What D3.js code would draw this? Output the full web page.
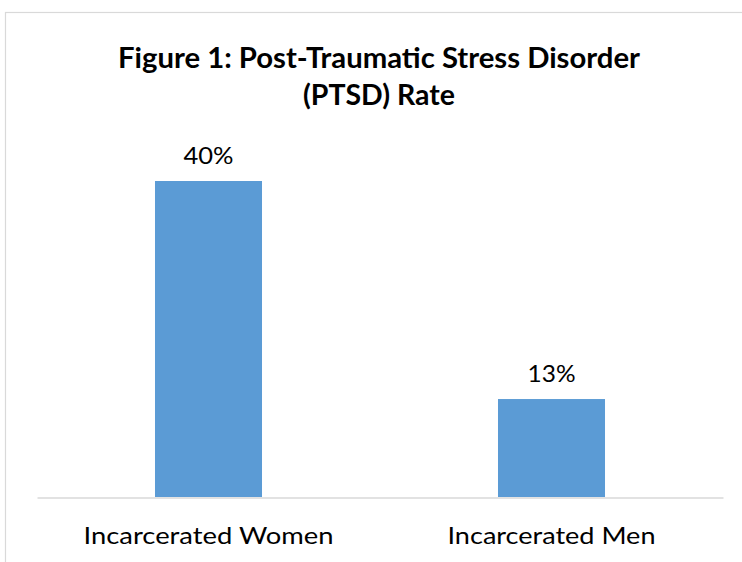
<!DOCTYPE html>
<html><head><meta charset="utf-8">
<script src="https://cdn.jsdelivr.net/npm/d3@7"></script>
<style>body{margin:0;background:#fff}svg{display:block}</style>
</head><body>
<svg id="c" width="742" height="562"></svg>
<script>
const categories = ["Incarcerated Women", "Incarcerated Men"];
const values = [40, 12.4];
const valueLabels = ["40%", "13%"];
const titleLines = ["Figure 1: Post-Traumatic Stress Disorder", "(PTSD) Rate"];

const svg = d3.select("#c");
svg.append("rect").attr("x", 5.5).attr("y", 12.5).attr("width", 760).attr("height", 600)
  .attr("fill", "#fff").attr("stroke", "#d9d9d9").attr("stroke-width", 1.2);

const x = d3.scaleBand().domain(categories).range([37, 723]).paddingInner(0.688).paddingOuter(0.344);
const y = d3.scaleLinear().domain([0, 45]).range([497, 141.5]);

const font = "Lato, 'Open Sans', sans-serif";
const titleWidths = [522, 152];
const catWidths = [250, 208];
const valWidths = [50, 48];

svg.selectAll("text.title").data(titleLines).enter().append("text")
  .attr("class", "title").attr("x", 379).attr("y", (d, i) => 68 + i * 37)
  .attr("text-anchor", "middle").attr("font-family", font).attr("font-weight", "bold")
  .attr("font-size", 28).attr("fill", "#000")
  .attr("textLength", (d, i) => titleWidths[i]).attr("lengthAdjust", "spacingAndGlyphs")
  .text(d => d);

svg.selectAll("rect.bar").data(values).enter().append("rect")
  .attr("class", "bar")
  .attr("x", (d, i) => x(categories[i]))
  .attr("width", x.bandwidth())
  .attr("y", d => y(d))
  .attr("height", d => y(0) - y(d))
  .attr("fill", "#5b9bd5");

svg.selectAll("text.vl").data(values).enter().append("text")
  .attr("class", "vl")
  .attr("x", (d, i) => x(categories[i]) + x.bandwidth() / 2)
  .attr("y", d => y(d) - 17)
  .attr("text-anchor", "middle").attr("font-family", font).attr("font-size", 23)
  .attr("fill", "#000")
  .attr("textLength", (d, i) => valWidths[i]).attr("lengthAdjust", "spacingAndGlyphs")
  .text((d, i) => valueLabels[i]);

const axis = d3.axisBottom(x).tickSize(0).tickPadding(0);
const g = svg.append("g").attr("transform", "translate(0,497.5)").call(axis);
g.select(".domain").attr("stroke", "#d9d9d9").attr("stroke-width", 1.5);
g.selectAll(".tick text").attr("font-family", font).attr("font-size", 24).attr("fill", "#000")
  .attr("y", 46).attr("dy", 0)
  .attr("textLength", (d, i) => catWidths[i]).attr("lengthAdjust", "spacingAndGlyphs");
</script>
</body></html>
